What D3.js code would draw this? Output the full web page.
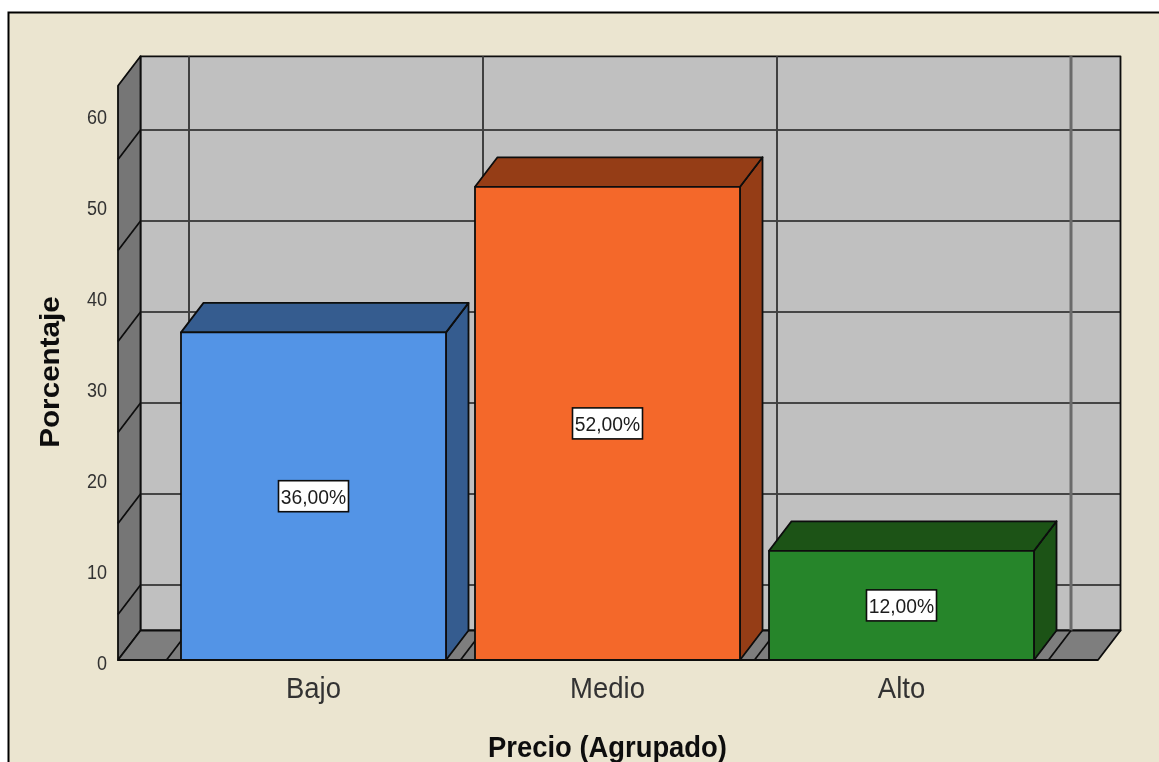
<!DOCTYPE html>
<html><head><meta charset="utf-8">
<script src="https://cdn.jsdelivr.net/npm/d3@7/dist/d3.min.js"></script>
<style>html,body{margin:0;padding:0;background:#fff}svg{display:block}text{font-family:"Liberation Sans",Arial,sans-serif}</style>
</head><body><svg id="c" width="1159" height="762"></svg>
<script>
const categories=["Bajo","Medio","Alto"];
const values=[36,52,12];
const valueLabels=["36,00%","52,00%","12,00%"];
const yTicks=[0,10,20,30,40,50,60];
const gridValues=[5,15,25,35,45,55];
const faceColors=["#5294e6","#f4672a","#288529"];
const sideColors=["#365c8f","#953e18","#1a5218"];

const root=d3.select("#c");
root.append("defs").append("filter").attr("id","soft").attr("x",0).attr("y",0).attr("width","100%").attr("height","100%")
  .append("feGaussianBlur").attr("stdDeviation",0.45);
const svg=root.append("g").attr("filter","url(#soft)");
const dx=22.5,dy=-29.5;
const y=d3.scaleLinear().domain([0,60]).range([660,114]);
const x=d3.scaleBand().domain(categories).range([166.5,1048.5]).paddingInner(0.0986).paddingOuter(0.0493);
const left=118,right=1098,topV=63.1;
const ink="#0c0c0c";
const pts=a=>a.map(p=>p.join(",")).join(" ");
const poly=(a,fill,sw=1.8)=>svg.append("polygon").attr("points",pts(a)).attr("fill",fill).attr("stroke",ink).attr("stroke-width",sw).attr("stroke-linejoin","round");
const line=(x1,y1,x2,y2,c=ink,w=1.7)=>svg.append("line").attr("x1",x1).attr("y1",y1).attr("x2",x2).attr("y2",y2).attr("stroke",c).attr("stroke-width",w);
const label=(tx,ty,txt,size,sy,anchor,fill,weight)=>svg.append("text")
  .attr("transform",`translate(${tx},${ty}) scale(1,${sy})`).attr("text-anchor",anchor)
  .attr("font-size",size).attr("font-weight",weight||"normal").attr("fill",fill).text(txt);

svg.append("rect").attr("x",0).attr("y",0).attr("width",1159).attr("height",762).attr("fill","#fff");
svg.append("rect").attr("x",8.5).attr("y",12.5).attr("width",1170).attr("height",770).attr("fill","#ebe5d0").attr("stroke","#000").attr("stroke-width",2);

const y0=y(0),yT=y(topV);
poly([[left+dx,yT+dy],[right+dx,yT+dy],[right+dx,y0+dy],[left+dx,y0+dy]],"#c0c0c0");
poly([[left,yT],[left+dx,yT+dy],[left+dx,y0+dy],[left,y0]],"#767676");
poly([[left,y0],[left+dx,y0+dy],[right+dx,y0+dy],[right,y0]],"#7e7e7e");
gridValues.forEach(v=>{
  line(left,y(v),left+dx,y(v)+dy);
  line(left+dx,y(v)+dy,right+dx,y(v)+dy,"#1c1c1c");
});
const boundaries=[166.5,460.5,754.5,1048.5];
boundaries.forEach((b,i)=>{
  line(b+dx,yT+dy,b+dx,y0+dy,i===3?"#6a6a6a":"#404040",i===3?3:2);
  line(b,y0,b+dx,y0+dy);
});
categories.forEach((c,i)=>{
  const x0=x(c),x1=x0+x.bandwidth(),yv=y(values[i]);
  poly([[x1,yv],[x1+dx,yv+dy],[x1+dx,y0+dy],[x1,y0]],sideColors[i]);
  poly([[x0,yv],[x0+dx,yv+dy],[x1+dx,yv+dy],[x1,yv]],sideColors[i]);
  poly([[x0,yv],[x1,yv],[x1,y0],[x0,y0]],faceColors[i]);
  const cx=(x0+x1)/2,cy=y(values[i]/2);
  svg.append("rect").attr("x",cx-35).attr("y",cy-15.5).attr("width",70).attr("height",31).attr("fill","#fff").attr("stroke",ink).attr("stroke-width",1.6);
  label(cx,cy+7.5,valueLabels[i],19.3,1.05,"middle","#1c1c1c");
  label(cx,698,c,27.5,1.07,"middle","#333");
});
line(left,y0,right,y0,ink,2.2);
yTicks.forEach(t=>label(107,y(t)+10,t,18,1.15,"end","#333"));
svg.append("text").attr("transform","translate(58.5,372) rotate(-90) scale(1.04,1)").attr("text-anchor","middle").attr("font-size",28.5).attr("font-weight","bold").attr("fill","#111").text("Porcentaje");
label(607.5,757,"Precio (Agrupado)",27.4,1.06,"middle","#111","bold");
</script></body></html>
